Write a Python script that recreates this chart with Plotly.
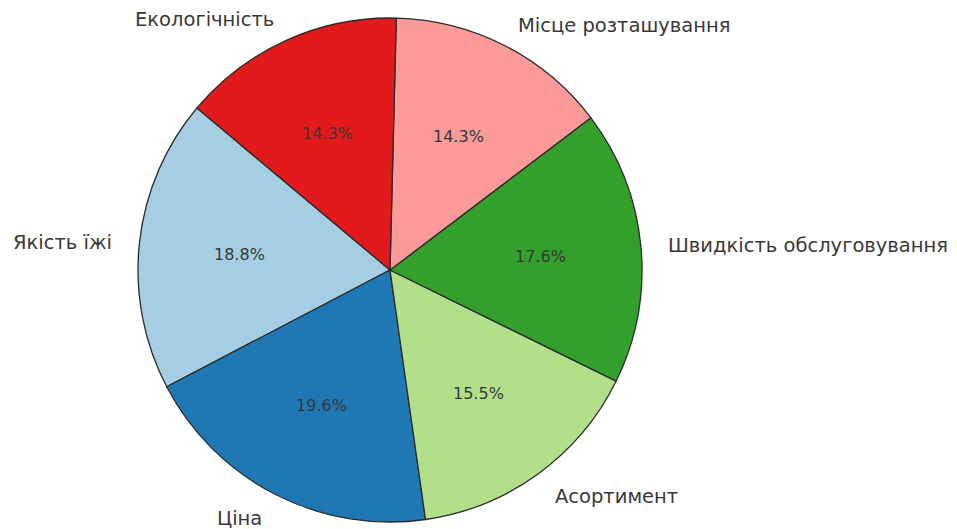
import math

import plotly.graph_objects as go

# Slice data (matplotlib "Paired" palette, startangle=140, counterclockwise)
labels = [
    "Якість їжі",
    "Ціна",
    "Асортимент",
    "Швидкість обслуговування",
    "Місце розташування",
    "Екологічність",
]
shares = [18.8, 19.6, 15.5, 17.6, 14.3, 14.3]
colors = ["#a6cee3", "#1f78b4", "#b2df8a", "#33a02c", "#fb9a99", "#e31a1c"]

# the page body has an 8px margin, so the figure sits at (8, 8) in the window
PAD = 8
W, H = 957 - PAD, 529 - PAD
CX, CY, R = 390 - PAD, 270 - PAD, 252   # pie centre / radius in figure pixels
START = 140                 # degrees, counterclockwise from 3 o'clock
FONT = "DejaVu Sans"

total = sum(shares)
# plotly: with counterclockwise direction the first slice spans
# [rotation, rotation + v0] measured clockwise from 12 o'clock
first_span = 360 * shares[0] / total
rotation = -(START - 90) - first_span

fig = go.Figure(go.Pie(
    labels=labels,
    values=shares,
    marker=dict(colors=colors, line=dict(color="#2b2b2b", width=1.3)),
    sort=False,
    direction="counterclockwise",
    rotation=rotation,
    textinfo="none",
    hoverinfo="label+percent",
    showlegend=False,
    domain=dict(x=[(CX - R) / W, (CX + R) / W],
                y=[(H - CY - R) / H, (H - CY + R) / H]),
))

# Labels at 1.1 r and percentages at 0.6 r, like matplotlib does
angle = START
for lab, val in zip(labels, shares):
    span = 360 * val / total
    mid = math.radians(angle + span / 2)
    angle += span
    c, s = math.cos(mid), math.sin(mid)

    fig.add_annotation(
        x=(CX + 1.1 * R * c) / W, y=(H - CY + 1.1 * R * s) / H,
        xref="paper", yref="paper", showarrow=False,
        text=lab, xanchor="left" if c > 0 else "right", yanchor="middle",
        yshift=-2,
        font=dict(family=FONT, size=19.5, color="#383838"),
    )
    fig.add_annotation(
        x=(CX + 0.6 * R * c) / W, y=(H - CY + 0.6 * R * s) / H,
        xref="paper", yref="paper", showarrow=False,
        text=f"{100 * val / total:.1f}%", xanchor="center", yanchor="middle",
        yshift=-1,
        font=dict(family=FONT, size=16, color="#383838"),
    )

fig.update_layout(
    width=W, height=H,
    margin=dict(l=0, r=0, t=0, b=0),
    paper_bgcolor="white",
    plot_bgcolor="white",
)

fig.write_html("out.html")
